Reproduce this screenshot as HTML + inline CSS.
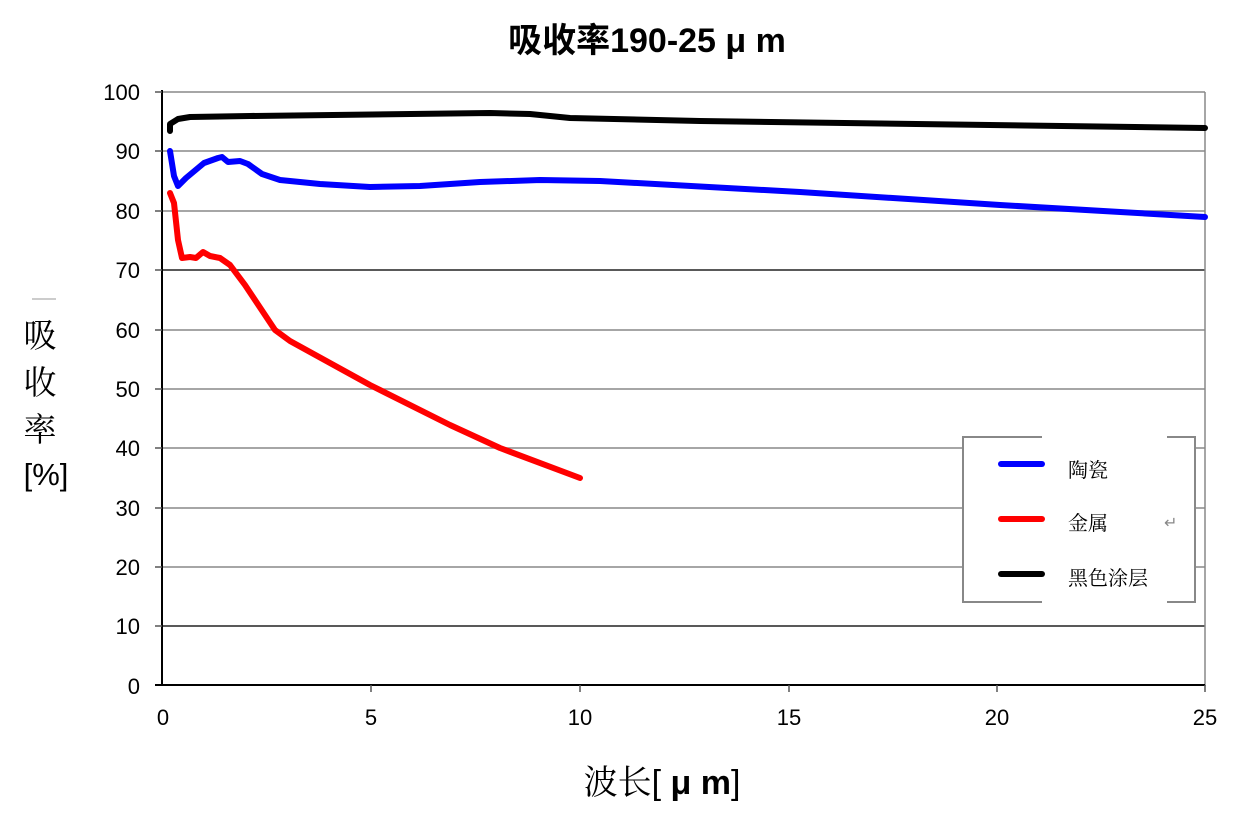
<!DOCTYPE html>
<html><head><meta charset="utf-8"><style>
body{margin:0;background:#fff;width:1235px;height:823px;overflow:hidden}
svg{display:block}
.t{font-family:"Liberation Sans",Arial,sans-serif;font-size:22px;fill:#000}
.c{font-family:"Liberation Serif","Noto Serif CJK SC",serif;fill:#000}
</style></head><body>
<svg width="1235" height="823" viewBox="0 0 1235 823">
<g stroke="#888" stroke-width="1.5">
<line x1="162" y1="92" x2="1205" y2="92"/>
<line x1="162" y1="151" x2="1205" y2="151"/>
<line x1="162" y1="211" x2="1205" y2="211"/>
<line x1="162" y1="270" x2="1205" y2="270" stroke="#222"/>
<line x1="162" y1="330" x2="1205" y2="330"/>
<line x1="162" y1="389" x2="1205" y2="389"/>
<line x1="162" y1="448" x2="1205" y2="448"/>
<line x1="162" y1="508" x2="1205" y2="508"/>
<line x1="162" y1="567" x2="1205" y2="567"/>
<line x1="162" y1="626" x2="1205" y2="626" stroke="#222"/>
<line x1="1205" y1="92" x2="1205" y2="686"/>
</g>
<g stroke="#000" stroke-width="2">
<line x1="162" y1="90" x2="162" y2="686"/>
<line x1="155" y1="685" x2="1205" y2="685"/>
</g>
<g stroke="#555" stroke-width="1.5">
<line x1="155" y1="92" x2="162" y2="92"/><line x1="155" y1="151" x2="162" y2="151"/><line x1="155" y1="211" x2="162" y2="211"/><line x1="155" y1="270" x2="162" y2="270"/><line x1="155" y1="330" x2="162" y2="330"/><line x1="155" y1="389" x2="162" y2="389"/><line x1="155" y1="448" x2="162" y2="448"/><line x1="155" y1="508" x2="162" y2="508"/><line x1="155" y1="567" x2="162" y2="567"/><line x1="155" y1="626" x2="162" y2="626"/>
<line x1="371" y1="685" x2="371" y2="692"/><line x1="580" y1="685" x2="580" y2="692"/><line x1="789" y1="685" x2="789" y2="692"/><line x1="997" y1="685" x2="997" y2="692"/><line x1="1205" y1="685" x2="1205" y2="692"/>
</g>
<g class="t" text-anchor="end">
<text x="140" y="100">100</text><text x="140" y="159">90</text><text x="140" y="219">80</text><text x="140" y="278">70</text><text x="140" y="338">60</text><text x="140" y="397">50</text><text x="140" y="456">40</text><text x="140" y="516">30</text><text x="140" y="575">20</text><text x="140" y="634">10</text><text x="140" y="694">0</text>
</g>
<g class="t" text-anchor="middle">
<text x="163" y="725">0</text><text x="371" y="725">5</text><text x="580" y="725">10</text><text x="789" y="725">15</text><text x="997" y="725">20</text><text x="1205" y="725">25</text>
</g>
<g fill="none" stroke-width="6" stroke-linejoin="round" stroke-linecap="round">
<polyline stroke="#000" points="170,131 170,124 178,119 190,117 250,116 490,113 530,114 570,118 700,121 1205,128"/>
<polyline stroke="#00f" points="170,151 174,176 178,186 186,178 204,163 218,158 222,157 228,162 240,161 248,164 262,174 280,180 320,184 370,187 420,186 480,182 540,180 600,181 800,192 1000,205 1205,217"/>
<polyline stroke="#f00" points="170,193 174,203 178,240 182,258 190,257 196,258 203,252 210,256 220,258 230,265 245,285 275,330 290,341 370,385 450,425 500,448 580,478"/>
</g>
<rect x="963" y="437" width="232" height="165" fill="#fff" stroke="#888" stroke-width="2"/>
<rect x="1042" y="430" width="125" height="180" fill="#fff"/>
<g stroke-width="6" stroke-linecap="round">
<line x1="1001" y1="464" x2="1042" y2="464" stroke="#00f"/>
<line x1="1001" y1="519" x2="1042" y2="519" stroke="#f00"/>
<line x1="1001" y1="574" x2="1042" y2="574" stroke="#000"/>
</g>
<g class="c" font-size="20">
<text x="1068" y="477">陶瓷</text><text x="1068" y="530">金属</text><text x="1068" y="585">黑色涂层</text>
</g>
<text x="1164" y="528" font-size="16" fill="#888" font-family="DejaVu Sans,sans-serif">↵</text>
<text x="647" y="52" text-anchor="middle" font-size="34" font-family="'Liberation Sans','Noto Sans CJK SC',sans-serif" font-weight="bold">吸收率190-25 μ m</text>
<text x="662" y="794" text-anchor="middle" font-size="34" font-family="'Liberation Sans','Noto Serif CJK SC',sans-serif">波长[ <tspan font-weight="bold">μ m</tspan>]</text>
<line x1="32" y1="299" x2="56" y2="299" stroke="#999" stroke-width="1"/>
<g class="c" font-size="33" text-anchor="middle">
<text x="40" y="347">吸</text><text x="40" y="394">收</text><text x="40" y="441">率</text>
<text x="46" y="485" font-family="'Liberation Sans',sans-serif" font-size="31">[%]</text>
</g>
</svg>
</body></html>
